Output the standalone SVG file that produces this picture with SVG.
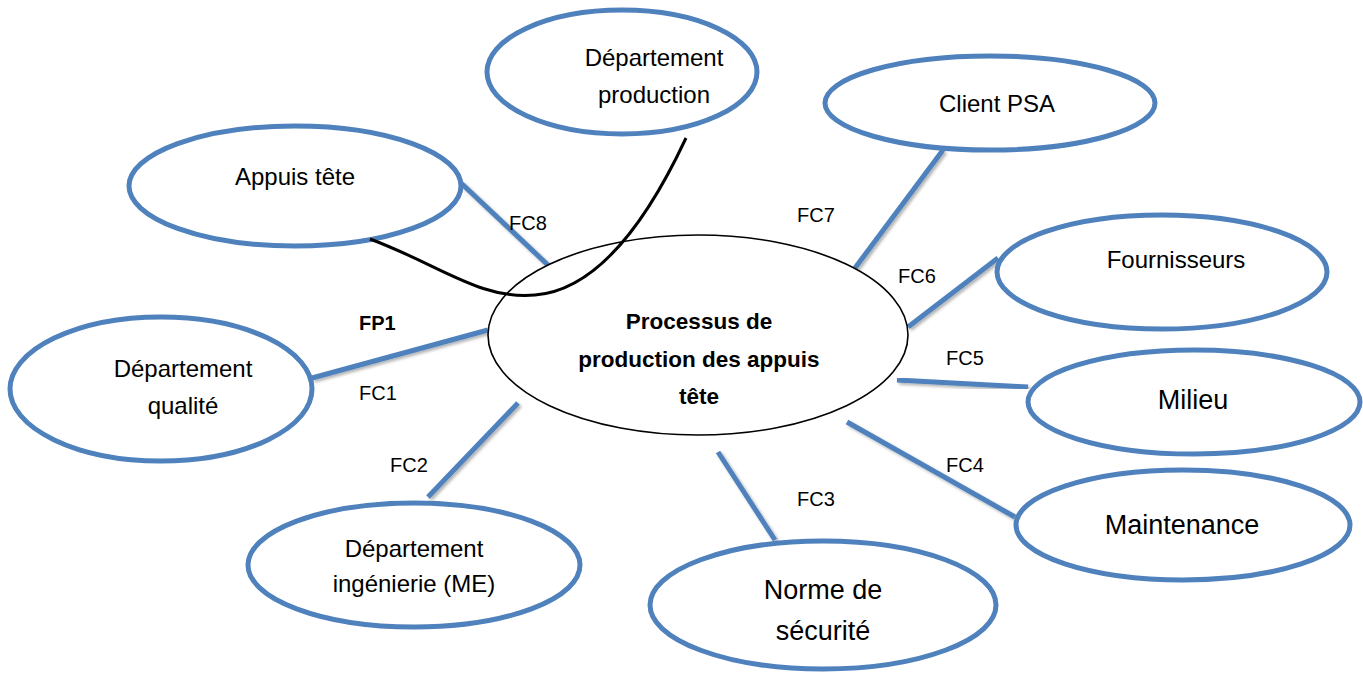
<svg xmlns="http://www.w3.org/2000/svg" width="1363" height="675" viewBox="0 0 1363 675">
<defs>
<style>
.node{fill:#fff;stroke:#4f81bd;stroke-width:5}
.center{fill:#fff;stroke:#000;stroke-width:1.6}
.t{font-family:"Liberation Sans",Arial,sans-serif;font-size:24px;fill:#000;text-anchor:middle}
.tl{font-size:27px}
.tc{font-size:22.5px;font-weight:bold}
.b{font-weight:bold}
.lbl{font-family:"Liberation Sans",Arial,sans-serif;font-size:20px;fill:#000}
.con{stroke:#4f81bd;stroke-width:5;fill:none;filter:url(#sh)}
</style>
<filter id="sh" x="-20%" y="-20%" width="140%" height="140%">
<feDropShadow dx="2" dy="2" stdDeviation="1.5" flood-color="#000" flood-opacity="0.3"/>
</filter>
</defs>
<rect width="1363" height="675" fill="#fff"/>
<g id="connectors">
<line class="con" x1="461" y1="183" x2="550" y2="267"/>
<line class="con" x1="312" y1="378" x2="488" y2="330"/>
<line class="con" x1="428" y1="497" x2="518" y2="403"/>
<line class="con" x1="718" y1="452" x2="775" y2="540"/>
<line class="con" x1="847" y1="422" x2="1015" y2="517"/>
<line class="con" x1="897" y1="380" x2="1028" y2="387"/>
<line class="con" x1="908" y1="327" x2="998" y2="258"/>
<line class="con" x1="855" y1="268" x2="943" y2="150"/>
</g>
<g id="n-production"><ellipse class="node" cx="622" cy="72" rx="135" ry="62"/><text class="t" x="654" y="66">Département</text><text class="t" x="654" y="103">production</text></g>
<g id="n-appuis"><ellipse class="node" cx="295" cy="186" rx="166" ry="60"/><text class="t" x="295" y="185">Appuis tête</text></g>
<g id="n-client"><ellipse class="node" cx="990" cy="103" rx="165" ry="47"/><text class="t" x="997" y="112">Client PSA</text></g>
<g id="n-fournisseurs"><ellipse class="node" cx="1162" cy="272" rx="165" ry="57"/><text class="t" x="1176" y="268">Fournisseurs</text></g>
<g id="n-milieu"><ellipse class="node" cx="1194" cy="402" rx="166" ry="52"/><text class="t tl" x="1193" y="409">Milieu</text></g>
<g id="n-maintenance"><ellipse class="node" cx="1183" cy="525" rx="167" ry="55"/><text class="t tl" x="1182" y="534">Maintenance</text></g>
<g id="n-norme"><ellipse class="node" cx="823" cy="605" rx="173" ry="64"/><text class="t tl" x="823" y="599">Norme de</text><text class="t tl" x="823" y="640">sécurité</text></g>
<g id="n-ingenierie"><ellipse class="node" cx="414" cy="565" rx="166" ry="62"/><text class="t" x="414" y="557">Département</text><text class="t" x="414" y="592">ingénierie (ME)</text></g>
<g id="n-qualite"><ellipse class="node" cx="161" cy="389" rx="151" ry="72"/><text class="t" x="183" y="377">Département</text><text class="t" x="183" y="414">qualité</text></g>
<g id="n-center"><ellipse class="center" cx="698" cy="335" rx="210" ry="100"/><text class="t tc" x="699" y="329">Processus de</text><text class="t tc" x="699" y="367">production des appuis</text><text class="t tc" x="699" y="404">tête</text></g>
<g id="curve"><path d="M370,239 C440,265 480,300 535,295 C600,290 650,215 686,138" fill="none" stroke="#000" stroke-width="3"/></g>
<g id="labels">
<text class="lbl" x="509" y="230">FC8</text>
<text class="lbl" x="797" y="222">FC7</text>
<text class="lbl" x="898" y="283">FC6</text>
<text class="lbl b" x="359" y="330">FP1</text>
<text class="lbl" x="359" y="400">FC1</text>
<text class="lbl" x="946" y="365">FC5</text>
<text class="lbl" x="390" y="472">FC2</text>
<text class="lbl" x="946" y="472">FC4</text>
<text class="lbl" x="797" y="506">FC3</text>
</g>
</svg>
